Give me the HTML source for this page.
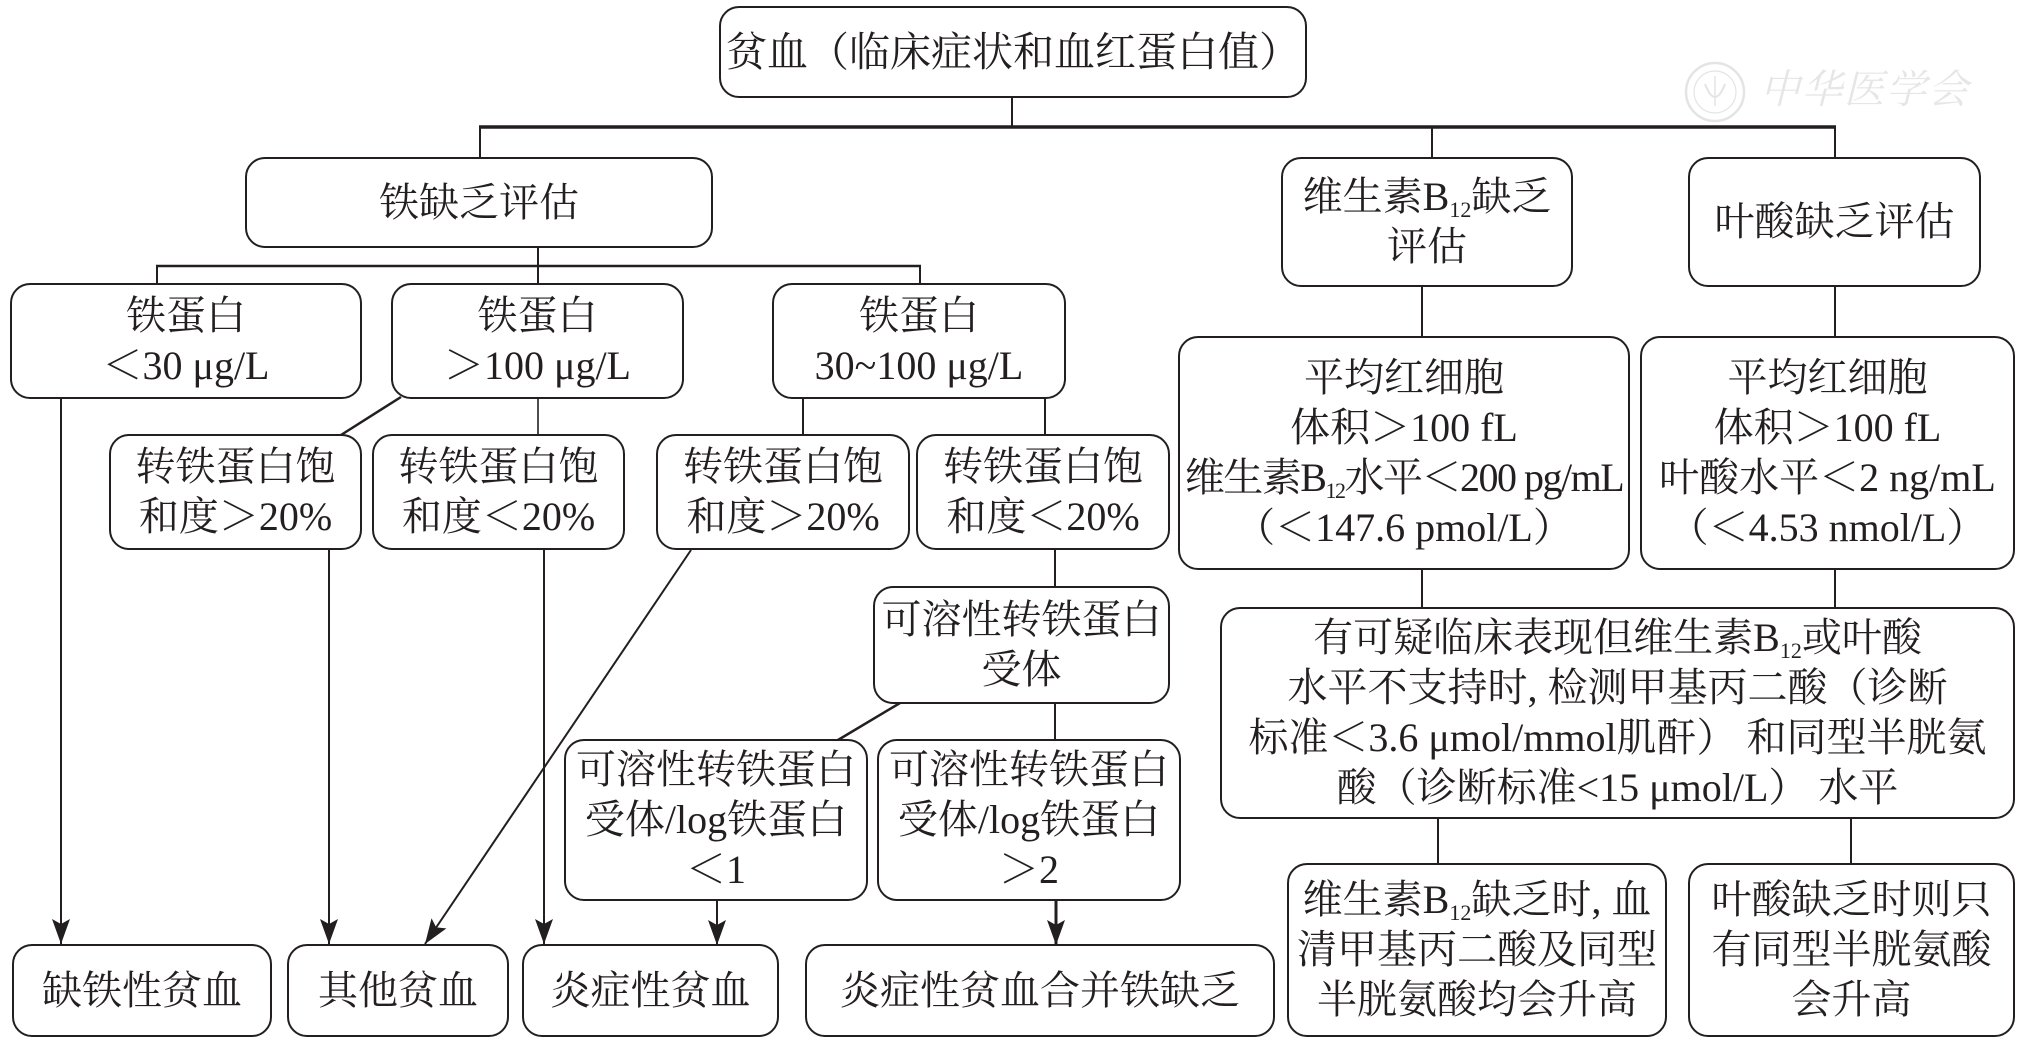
<!DOCTYPE html>
<html>
<head>
<meta charset="utf-8">
<style>
  html,body{margin:0;padding:0;background:#fff;}
  #c{position:relative;width:2025px;height:1044px;overflow:hidden;background:#fff;
     font-family:"Liberation Serif","Noto Serif CJK SC",serif;color:#231f20;}
  .b{position:absolute;box-sizing:border-box;border:2.5px solid #231f20;border-radius:20px;
     display:flex;align-items:center;justify-content:center;text-align:center;
     font-size:40px;line-height:50px;white-space:nowrap;}
  .b>div{white-space:nowrap;}
  .s{font-size:22px;vertical-align:-7px;line-height:0;}
  svg{position:absolute;left:0;top:0;}
  .wm{position:absolute;left:1764px;top:62px;font-family:"Noto Serif CJK SC",serif;font-size:40px;
      color:#e6e6e6;letter-spacing:2px;transform:skewX(-14deg);line-height:50px;white-space:nowrap;}
</style>
</head>
<body>
<div id="c">
<svg width="2025" height="1044" viewBox="0 0 2025 1044">
  <defs>
    <marker id="a" markerUnits="userSpaceOnUse" viewBox="0 -10 26 20" markerWidth="26" markerHeight="20" refX="25" refY="0" orient="auto">
      <path d="M0,-9 L25,0 L0,9 L5,0 Z" fill="#231f20"/>
    </marker>
  </defs>
  <!-- watermark logo -->
  <g stroke="#e4e4e4" fill="none">
    <circle cx="1715" cy="92" r="29" stroke-width="2.5"/>
    <circle cx="1715" cy="92" r="21" stroke-width="1.2"/>
    <path d="M1705,84 Q1715,110 1725,84" stroke-width="2"/>
    <line x1="1715" y1="76" x2="1715" y2="106" stroke-width="1.5"/>
  </g>
  <g stroke="#231f20" fill="none" stroke-width="2">
    <!-- top -->
    <line x1="1012" y1="98" x2="1012" y2="127"/>
    <line x1="479" y1="127" x2="1836" y2="127" stroke-width="3.5"/>
    <line x1="480" y1="127" x2="480" y2="157"/>
    <line x1="1432" y1="127" x2="1432" y2="157"/>
    <line x1="1835" y1="127" x2="1835" y2="157"/>
    <!-- iron -->
    <line x1="538" y1="248" x2="538" y2="266"/>
    <line x1="156" y1="266" x2="921" y2="266" stroke-width="2.5"/>
    <line x1="157" y1="266" x2="157" y2="283"/>
    <line x1="538" y1="266" x2="538" y2="283"/>
    <line x1="920" y1="266" x2="920" y2="283"/>
    <!-- ferritin >100 -->
    <line x1="401" y1="397" x2="341" y2="435" stroke-width="2.5"/>
    <line x1="538" y1="399" x2="538" y2="434" stroke-width="1.6"/>
    <!-- ferritin 30-100 -->
    <line x1="803" y1="399" x2="803" y2="434"/>
    <line x1="1045" y1="399" x2="1045" y2="434"/>
    <!-- arrows to bottom -->
    <line x1="61" y1="399" x2="61" y2="944" marker-end="url(#a)"/>
    <line x1="329" y1="550" x2="329" y2="944" marker-end="url(#a)"/>
    <line x1="544" y1="550" x2="544" y2="944" marker-end="url(#a)"/>
    <line x1="691" y1="550" x2="425" y2="944" marker-end="url(#a)"/>
    <!-- D to sTfR -->
    <line x1="1055" y1="550" x2="1055" y2="586"/>
    <line x1="900" y1="703" x2="838" y2="740" stroke-width="2.5"/>
    <line x1="1055" y1="704" x2="1055" y2="739"/>
    <line x1="717" y1="901" x2="717" y2="945" marker-end="url(#a)"/>
    <line x1="1056" y1="901" x2="1056" y2="945" stroke-width="3" marker-end="url(#a)"/>
    <!-- right side -->
    <line x1="1422" y1="287" x2="1422" y2="336"/>
    <line x1="1835" y1="287" x2="1835" y2="336"/>
    <line x1="1422" y1="570" x2="1422" y2="607"/>
    <line x1="1835" y1="570" x2="1835" y2="607"/>
    <line x1="1438" y1="819" x2="1438" y2="863"/>
    <line x1="1851" y1="819" x2="1851" y2="863"/>
  </g>
</svg>

<div class="wm">中华医学会</div>

<div class="b" style="left:719px;top:6px;width:588px;height:92px;font-size:41px;"><div>贫血（临床症状和血红蛋白值）</div></div>

<div class="b" style="left:245px;top:157px;width:468px;height:91px;"><div>铁缺乏评估</div></div>
<div class="b" style="left:1281px;top:157px;width:292px;height:130px;"><div>维生素B<span class="s">12</span>缺乏<br>评估</div></div>
<div class="b" style="left:1688px;top:157px;width:293px;height:130px;"><div>叶酸缺乏评估</div></div>

<div class="b" style="left:10px;top:283px;width:352px;height:116px;"><div>铁蛋白<br>＜30 μg/L</div></div>
<div class="b" style="left:391px;top:283px;width:293px;height:116px;"><div>铁蛋白<br>＞100 μg/L</div></div>
<div class="b" style="left:772px;top:283px;width:294px;height:116px;"><div>铁蛋白<br>30~100 μg/L</div></div>

<div class="b" style="left:109px;top:434px;width:253px;height:116px;"><div>转铁蛋白饱<br>和度＞20%</div></div>
<div class="b" style="left:372px;top:434px;width:253px;height:116px;"><div>转铁蛋白饱<br>和度＜20%</div></div>
<div class="b" style="left:656px;top:434px;width:254px;height:116px;"><div>转铁蛋白饱<br>和度＞20%</div></div>
<div class="b" style="left:916px;top:434px;width:254px;height:116px;"><div>转铁蛋白饱<br>和度＜20%</div></div>

<div class="b" style="left:873px;top:586px;width:297px;height:118px;"><div>可溶性转铁蛋白<br>受体</div></div>
<div class="b" style="left:564px;top:739px;width:304px;height:162px;"><div>可溶性转铁蛋白<br>受体/log铁蛋白<br>＜1</div></div>
<div class="b" style="left:877px;top:739px;width:304px;height:162px;"><div>可溶性转铁蛋白<br>受体/log铁蛋白<br>＞2</div></div>

<div class="b" style="left:12px;top:944px;width:260px;height:93px;"><div>缺铁性贫血</div></div>
<div class="b" style="left:287px;top:944px;width:222px;height:93px;"><div>其他贫血</div></div>
<div class="b" style="left:522px;top:944px;width:257px;height:93px;"><div>炎症性贫血</div></div>
<div class="b" style="left:805px;top:944px;width:470px;height:93px;"><div>炎症性贫血合并铁缺乏</div></div>

<div class="b" style="left:1178px;top:336px;width:452px;height:234px;"><div>平均红细胞<br>体积＞100 fL<br><span style="letter-spacing:-1.5px;">维生素B<span class="s">12</span>水平＜200 pg/mL</span><br>（＜147.6 pmol/L）</div></div>
<div class="b" style="left:1640px;top:336px;width:375px;height:234px;"><div>平均红细胞<br>体积＞100 fL<br>叶酸水平＜2 ng/mL<br>（＜4.53 nmol/L）</div></div>

<div class="b" style="left:1220px;top:607px;width:795px;height:212px;"><div>有可疑临床表现但维生素B<span class="s">12</span>或叶酸<br>水平不支持时, 检测甲基丙二酸（诊断<br>标准＜3.6 μmol/mmol肌酐） 和同型半胱氨<br>酸（诊断标准&lt;15 μmol/L） 水平</div></div>

<div class="b" style="left:1287px;top:863px;width:380px;height:174px;"><div>维生素B<span class="s">12</span>缺乏时, 血<br>清甲基丙二酸及同型<br>半胱氨酸均会升高</div></div>
<div class="b" style="left:1688px;top:863px;width:327px;height:174px;"><div>叶酸缺乏时则只<br>有同型半胱氨酸<br>会升高</div></div>

</div>
</body>
</html>
